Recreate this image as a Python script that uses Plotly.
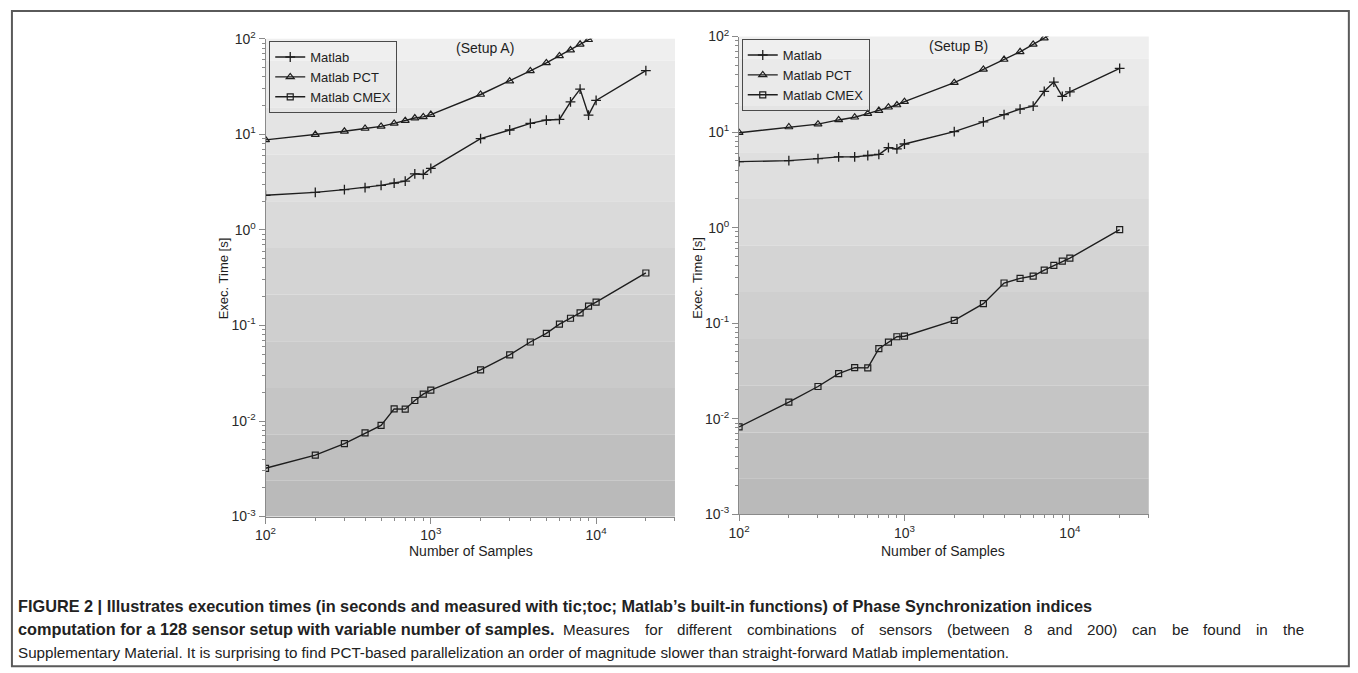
import plotly.graph_objects as go

# ---------------- data ----------------
samples = [100, 200, 300, 400, 500, 600, 700, 800, 900, 1000,
           2000, 3000, 4000, 5000, 6000, 7000, 8000, 9000, 10000, 20000]

# Setup A
a_matlab = [2.3, 2.47, 2.64, 2.77, 2.92, 3.09, 3.24, 3.86, 3.80, 4.4,
            9.0, 11.1, 13.0, 14.1, 14.3, 21.9, 29.7, 15.9, 22.6, 46.4]
a_pct_x = [100, 200, 300, 400, 500, 600, 700, 800, 900, 1000,
           2000, 3000, 4000, 5000, 6000, 7000, 8000, 9000, 10000]
a_pct = [8.75, 9.93, 10.75, 11.5, 12.1, 13.0, 13.9, 14.8, 15.2, 16.1,
         26.1, 36.0, 46.1, 55.8, 66.1, 76.2, 87.4, 97.6, 108]
a_cmex = [0.0032, 0.0044, 0.0058, 0.0075, 0.009, 0.0134, 0.0133, 0.0164, 0.0191, 0.021,
          0.0343, 0.0492, 0.0671, 0.0826, 0.103, 0.119, 0.1355, 0.159, 0.175, 0.354]

# Setup B
b_matlab = [4.9, 5.02, 5.27, 5.5, 5.5, 5.69, 5.83, 6.88, 6.66, 7.5,
            10.1, 12.8, 15.2, 17.4, 18.7, 26.7, 33.4, 23.7, 26.3, 46.4]
b_pct_x = [100, 200, 300, 400, 500, 600, 700, 800, 900, 1000,
           2000, 3000, 4000, 5000, 6000, 7000, 8000]
b_pct = [9.85, 11.3, 12.1, 13.4, 14.3, 15.6, 16.8, 18.2, 19.2, 20.8,
         32.9, 45.3, 57.5, 69.2, 82.8, 96.4, 110]
b_cmex = [0.0082, 0.0149, 0.0217, 0.0296, 0.0342, 0.034, 0.054, 0.0634, 0.072, 0.073,
          0.107, 0.16, 0.263, 0.294, 0.311, 0.359, 0.402, 0.446, 0.479, 0.953]

series_names = ["Matlab", "Matlab PCT", "Matlab CMEX"]
x_tickvals = [100, 1000, 10000]
x_ticktext = ["10<sup>2</sup>", "10<sup>3</sup>", "10<sup>4</sup>"]
y_tickvals = [0.001, 0.01, 0.1, 1, 10, 100]
y_ticktext = ["10<sup>-3</sup>", "10<sup>-2</sup>", "10<sup>-1</sup>",
              "10<sup>0</sup>", "10<sup>1</sup>", "10<sup>2</sup>"]
panel_labels = ["(Setup A)", "(Setup B)"]

caption_1 = ("FIGURE 2 | Illustrates execution times (in seconds and measured with tic;toc; "
             "Matlab\u2019s built-in functions) of Phase Synchronization indices")
caption_2_bold = "computation for a 128 sensor setup with variable number of samples."
caption_2_rest = ("Measures for different combinations of sensors (between 8 and 200) "
                  "can be found in the")
caption_3 = ("Supplementary Material. It is surprising to find PCT-based parallelization an order "
             "of magnitude slower than straight-forward Matlab implementation.")

# ---------------- layout helpers ----------------
# The page keeps an 8px body margin and the photograph comes out slightly
# shrunk, so reference pixel positions are mapped back through that.
SX, SY = 0.995, 0.978
OFF = 8
FW, FH = 1358, 681
FONT = "Arial, 'Liberation Sans', sans-serif"
INK = "#1e1e1e"


def px(x):
    return (x / SX - OFF) / FW


def py(y):
    return 1 - (y / SY - OFF) / FH


minor_x = [v * m for v in (100, 1000, 10000) for m in range(2, 10) if v * m <= 30000]
minor_y = [v * m for v in (0.001, 0.01, 0.1, 1, 10) for m in range(2, 10)]

fig = go.Figure()


def add_panel(xs_ref, ys_ref, legend, matlab, pct_x, pct, cmex):
    common = dict(xaxis=xs_ref, yaxis=ys_ref, legend=legend, mode="lines+markers")
    fig.add_trace(go.Scatter(x=samples, y=matlab, name=series_names[0],
                             line=dict(color=INK, width=1.4),
                             marker=dict(symbol="cross-thin", size=7,
                                         line=dict(color=INK, width=1.3)), **common))
    fig.add_trace(go.Scatter(x=pct_x, y=pct, name=series_names[1],
                             line=dict(color=INK, width=1.4),
                             marker=dict(symbol="triangle-up-open", size=7, color=INK,
                                         line=dict(color=INK, width=1.2)), **common))
    fig.add_trace(go.Scatter(x=samples, y=cmex, name=series_names[2],
                             line=dict(color=INK, width=1.4),
                             marker=dict(symbol="square-open", size=6, color=INK,
                                         line=dict(color=INK, width=1.2)), **common))


add_panel("x", "y", "legend", a_matlab, a_pct_x, a_pct, a_cmex)
add_panel("x2", "y2", "legend2", b_matlab, b_pct_x, b_pct, b_cmex)

axis_x = dict(type="log", range=[2, 4.4771], tickmode="array", tickvals=x_tickvals,
              ticktext=x_ticktext, ticks="outside", ticklen=6, tickcolor="#8a8a8a",
              showline=True, linecolor="#8a8a8a", linewidth=1, showgrid=False,
              zeroline=False, mirror=False,
              tickfont=dict(family=FONT, size=14, color="#2a2a2a"),
              minor=dict(tickmode="array", tickvals=minor_x, ticks="outside",
                         ticklen=3, tickcolor="#8a8a8a", showgrid=False))
axis_y = dict(type="log", range=[-3, 2], tickmode="array", tickvals=y_tickvals,
              ticktext=y_ticktext, ticks="outside", ticklen=6, tickcolor="#8a8a8a",
              showline=True, linecolor="#8a8a8a", linewidth=1, showgrid=False,
              zeroline=False, mirror=False,
              tickfont=dict(family=FONT, size=14, color="#2a2a2a"),
              minor=dict(tickmode="array", tickvals=minor_y, ticks="outside",
                         ticklen=3, tickcolor="#8a8a8a", showgrid=False))

legend_style = dict(xanchor="left", yanchor="top", bgcolor="rgba(0,0,0,0)",
                    bordercolor="#4a4a4a", borderwidth=1,
                    font=dict(family=FONT, size=13, color=INK), tracegroupgap=0,
                    itemwidth=30)

fig.update_layout(
    width=FW, height=FH, autosize=False,
    margin=dict(l=0, r=0, t=0, b=0, pad=0),
    paper_bgcolor="white", plot_bgcolor="rgba(0,0,0,0)",
    font=dict(family=FONT, size=14, color=INK),
    xaxis=dict(axis_x, domain=[px(263.3), px(674)], anchor="y"),
    yaxis=dict(axis_y, domain=[py(516.7), py(36.7)], anchor="x"),
    xaxis2=dict(axis_x, domain=[px(738.3), px(1149.3)], anchor="y2"),
    yaxis2=dict(axis_y, domain=[py(514.3), py(34.5)], anchor="x2"),
    legend=dict(legend_style, x=px(267), y=py(39)),
    legend2=dict(legend_style, x=px(741), y=py(37)),
)

# stepped grey gradient background in both plot areas
bounds = [0.0, 0.046, 0.144, 0.242, 0.340, 0.438, 0.535, 0.633, 0.731, 0.829, 0.925, 1.0]
top_c, bot_c = 0xef, 0xba
shapes = []
for xr, yr in (("x domain", "y domain"), ("x2 domain", "y2 domain")):
    n = len(bounds) - 1
    for i in range(n):
        g = round(top_c + (bot_c - top_c) * i / (n - 1))
        col = "#%02x%02x%02x" % (g, g, g)
        shapes.append(dict(type="rect", xref="paper" if False else xr, yref=yr, x0=0, x1=1,
                           y0=1 - bounds[i + 1], y1=1 - bounds[i],
                           fillcolor=col, line=dict(width=0), layer="below"))
# frame around whole figure
shapes.append(dict(type="rect", xref="paper", yref="paper",
                   x0=px(8.9), x1=px(1350), y0=py(667), y1=py(8.8),
                   line=dict(color="#5a5a5a", width=2), fillcolor="rgba(0,0,0,0)",
                   layer="above"))
fig.update_layout(shapes=shapes)

ann = []


def note(text, x, y, size, xanchor="center", **kw):
    ann.append(dict(text=text, x=px(x), y=py(y), xref="paper", yref="paper",
                    xanchor=xanchor, yanchor="middle", showarrow=False,
                    font=dict(family=FONT, size=size, color=kw.pop("color", INK)), **kw))


# panel labels
note(panel_labels[0], 483, 46, 14)
note(panel_labels[1], 958, 44, 14)
# axis titles
for xc in (469, 943):
    note("Number of Samples", xc, 551, 14)
for xc in (222, 697):
    note("Exec. Time [s]", xc, 277, 13, textangle=-90)

# caption
CAP = "#222222"
CAP_BOLD = 16.3
CAP_REG = 15.2
note("<b>" + caption_1 + "</b>", 13, 607, CAP_BOLD, xanchor="left", color=CAP)
note("<b>" + caption_2_bold + "</b>", 13, 630, CAP_BOLD, xanchor="left", color=CAP)
note(caption_3, 13, 653, CAP_REG, xanchor="left", color=CAP)

# second caption line is justified in the original: spread its words evenly
ARIAL = {" ": 278, "(": 333, ")": 333, "M": 833, "a": 556, "b": 556, "c": 500,
         "d": 556, "e": 556, "f": 278, "g": 556, "h": 556, "i": 222, "l": 222,
         "m": 833, "n": 556, "o": 556, "r": 333, "s": 500, "t": 278, "u": 556,
         "w": 722, "y": 500, "x": 500, "k": 500, "p": 556, "v": 500}


def text_w(s, size):
    return sum(ARIAL.get(ch, 556) for ch in s) * size / 1000


words = caption_2_rest.split(" ")
x_start, x_end = 560, 1303
total = sum(text_w(w, CAP_REG) for w in words)
gap = (x_end - x_start - total) / (len(words) - 1)
xc = x_start
for w in words:
    note(w, xc, 630, CAP_REG, xanchor="left", color=CAP)
    xc += text_w(w, CAP_REG) + gap

fig.update_layout(annotations=ann)

fig.write_html("out.html")
